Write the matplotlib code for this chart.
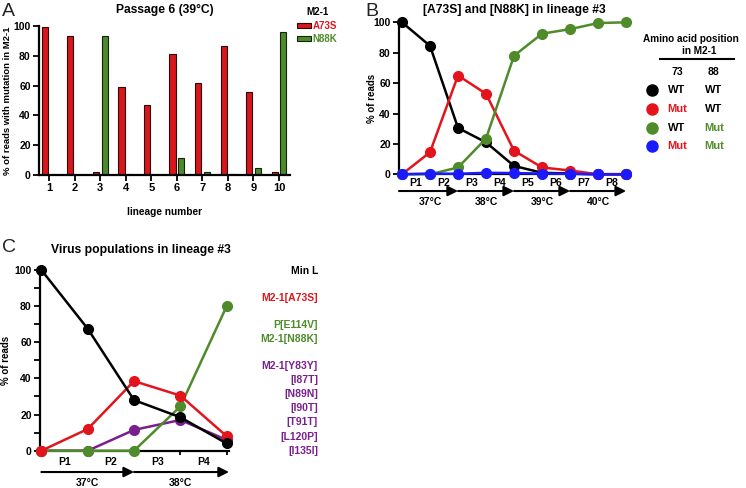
import numpy as np
import matplotlib
matplotlib.use("Agg")
import matplotlib.pyplot as plt
from matplotlib.lines import Line2D
import matplotlib.transforms as mtransforms

plt.rcParams['font.family'] = ['Liberation Sans', 'DejaVu Sans']
plt.rcParams['font.weight'] = 'bold'

# ---------------- data ----------------
lineages = [1, 2, 3, 4, 5, 6, 7, 8, 9, 10]
a73s = [99, 93, 2, 59, 47, 81.5, 61.5, 86.5, 55.5, 2]
n88k = [0.2, 0.3, 93.5, 1, 0.2, 11.5, 2, 1, 4.5, 96]

b_pass = [0, 1, 2, 3, 4, 5, 6, 7, 8]
b_wt_wt = [100, 84.5, 30.5, 21, 5.5, 1, 0.5, 0, 0]
b_mut_wt = [0, 14.5, 65, 53, 15.5, 4.5, 2.5, 0, 0]
b_wt_mut = [0, 0, 4.5, 23.5, 78, 92.5, 95.5, 99.5, 100]
b_mut_mut = [0, 0.5, 0.3, 1, 0.8, 0.5, 0.3, 0, 0]
b_plabels = ['P1', 'P2', 'P3', 'P4', 'P5', 'P6', 'P7', 'P8']
b_temps = ['37°C', '38°C', '39°C', '40°C']

c_pass = [0, 1, 2, 3, 4]
c_minl = [100, 67.5, 28, 18.5, 4]
c_a73s = [0, 12, 38.5, 30.5, 8]
c_n88k = [0, 0, 0, 24.5, 80]
c_y83y = [0, 0, 11.5, 17, 6]
c_plabels = ['P1', 'P2', 'P3', 'P4']
c_temps = ['37°C', '38°C']

RED = '#e3141c'
GREEN = '#4f8b2b'
BLUE = '#1a1aff'
PURPLE = '#7a1f8f'

W, H = 746, 488
fig = plt.figure(figsize=(W / 100, H / 100), dpi=100)
TICK = 7.5
TXT = 7.5
TITLE = 8.7
YLAB = 7


def fx(px):
    return px / W


def fy(py):
    return 1 - py / H


def style_axes(ax):
    for s in ['top', 'right']:
        ax.spines[s].set_visible(False)
    for s in ['left', 'bottom']:
        ax.spines[s].set_linewidth(1.6)
    ax.tick_params(axis='both', direction='out', width=1.3, length=4,
                   labelsize=TICK, pad=2)
    for lab in ax.get_xticklabels() + ax.get_yticklabels():
        lab.set_fontweight('bold')


# ---------------- Panel A ----------------
axA = fig.add_axes([fx(39), fy(175), fx(290) - fx(39), (175 - 26) / H])
x = np.array(lineages, dtype=float)
wbar = 0.24
barsR = axA.bar(x - 0.17, a73s, width=wbar, color='#d8161c', edgecolor='#2a0808', linewidth=0.8)
barsG = axA.bar(x + 0.17, n88k, width=wbar, color='#4c8a2b', edgecolor='#142408', linewidth=0.8)
axA.set_xlim(0.6, 10.43)
axA.set_ylim(0, 100)
axA.set_xticks(lineages)
axA.set_xticklabels([str(v) for v in lineages])
axA.set_yticks([0, 20, 40, 60, 80, 100])
style_axes(axA)
axA.tick_params(axis='x', labelsize=8)
axA.set_title('Passage 6 (39°C)', fontsize=TITLE, fontweight='bold', pad=9)
axA.set_xlabel('lineage number', fontsize=7.3, fontweight='bold', labelpad=10)
axA.set_ylabel('% of reads with mutation in M2-1', fontsize=6.8, fontweight='bold')
axA.yaxis.set_label_coords((12 - 39) / 251, 0.5)
leg = axA.legend([barsR, barsG], ['A73S', 'N88K'], title='M2-1', frameon=False,
                 loc='upper left', bbox_to_anchor=((297 - 39) / 251, (175 - 7) / 149),
                 handlelength=1.4, handleheight=0.5, handletextpad=0.2,
                 borderaxespad=0, borderpad=0, labelspacing=0.3, fontsize=7,
                 title_fontproperties={'weight': 'bold', 'size': 7})
leg._legend_box.sep = 3
for t, c in zip(leg.get_texts(), [RED, GREEN]):
    t.set_color(c)
    t.set_fontweight('bold')
fig.text(fx(2), fy(11), 'A', fontsize=14, color='#222222', va='center', ha='left', fontweight='normal')

# ---------------- Panel B ----------------
axB = fig.add_axes([fx(399), fy(174.3), fx(630) - fx(399), (174.3 - 22.3) / H])
lw = 1.8
ms = 7
axB.plot(b_pass, b_wt_wt, '-o', color='black', lw=lw, ms=ms, clip_on=False, zorder=3)
axB.plot(b_pass, b_mut_wt, '-o', color=RED, lw=lw, ms=ms, clip_on=False, zorder=4)
axB.plot(b_pass, b_wt_mut, '-o', color=GREEN, lw=lw, ms=ms, clip_on=False, zorder=5)
axB.plot(b_pass, b_mut_mut, '-o', color=BLUE, lw=lw, ms=ms, clip_on=False, zorder=6)
axB.set_xlim(-0.107, 8.14)
axB.set_ylim(0, 100)
axB.set_xticks(b_pass)
axB.set_xticklabels([])
axB.set_yticks([0, 20, 40, 60, 80, 100])
style_axes(axB)
axB.tick_params(axis='x', length=3)
axB.set_title('[A73S] and [N88K] in lineage #3', fontsize=TITLE, fontweight='bold', pad=7)
axB.set_ylabel('% of reads', fontsize=YLAB, fontweight='bold')
axB.yaxis.set_label_coords((377 - 399) / 231, 0.5)
trB = mtransforms.blended_transform_factory(axB.transData, axB.transAxes)
for i, lab in enumerate(b_plabels):
    axB.text(i + 0.5, -0.057, lab, transform=trB, ha='center', va='center',
             fontsize=TXT, fontweight='bold')
for k, lab in enumerate(b_temps):
    x0, x1 = 2 * k, 2 * k + 2
    axB.annotate('', xy=(x1, -0.11), xytext=(x0 - (0.107 if k == 0 else 0), -0.11),
                 xycoords=trB, textcoords=trB, annotation_clip=False,
                 arrowprops=dict(arrowstyle='-|>,head_length=0.6,head_width=0.3',
                                 color='black', lw=1.5, shrinkA=0, shrinkB=0))
    axB.text(2 * k + 1, -0.18, lab, transform=trB, ha='center', va='center',
             fontsize=TXT, fontweight='bold')
fig.text(fx(365), fy(11), 'B', fontsize=14, color='#222222', va='center', ha='left', fontweight='normal')

# legend for B
fig.text(fx(691), fy(39), 'Amino acid position', ha='center', va='center', fontsize=7.2, fontweight='bold')
fig.text(fx(699), fy(51), 'in M2-1', ha='center', va='center', fontsize=7.2, fontweight='bold')
fig.add_artist(Line2D([fx(660), fx(734)], [fy(59), fy(59)], color='black', lw=1.5))
fig.text(fx(677), fy(72), '73', ha='center', va='center', fontsize=TXT, fontweight='bold')
fig.text(fx(714), fy(72), '88', ha='center', va='center', fontsize=TXT, fontweight='bold')
rows = [('black', ('WT', 'black'), ('WT', 'black')),
        (RED, ('Mut', RED), ('WT', 'black')),
        (GREEN, ('WT', 'black'), ('Mut', GREEN)),
        (BLUE, ('Mut', RED), ('Mut', GREEN))]
for (mc, c1, c2), py in zip(rows, [90, 109, 128, 146]):
    fig.add_artist(Line2D([fx(652)], [fy(py)], marker='o', ms=8, color=mc, lw=0))
    fig.text(fx(677), fy(py), c1[0], color=c1[1], ha='center', va='center', fontsize=8, fontweight='bold')
    fig.text(fx(714), fy(py), c2[0], color=c2[1], ha='center', va='center', fontsize=8, fontweight='bold')

# ---------------- Panel C ----------------
axC = fig.add_axes([fx(40), fy(450.7), fx(229) - fx(40), (450.7 - 270) / H])
axC.plot(c_pass, c_y83y, '-o', color=PURPLE, lw=lw, ms=ms, clip_on=False, zorder=3)
axC.plot(c_pass, c_n88k, '-o', color=GREEN, lw=lw, ms=ms, clip_on=False, zorder=4)
axC.plot(c_pass, c_a73s, '-o', color=RED, lw=lw, ms=ms, clip_on=False, zorder=5)
axC.plot(c_pass, c_minl, '-o', color='black', lw=lw, ms=ms, clip_on=False, zorder=6)
axC.set_xlim(-0.03, 4.05)
axC.set_ylim(0, 100)
axC.set_xticks(c_pass)
axC.set_xticklabels([])
axC.set_yticks([0, 20, 40, 60, 80, 100])
axC.set_yticks([10, 30, 50, 70, 90], minor=True)
style_axes(axC)
axC.tick_params(axis='y', which='minor', length=4, width=1.3)
axC.tick_params(axis='x', length=3)
axC.set_ylabel('% of reads', fontsize=YLAB, fontweight='bold')
axC.yaxis.set_label_coords((11 - 40) / 189, 0.5)
fig.text(fx(141), fy(250), 'Virus populations in lineage #3', ha='center', va='center',
         fontsize=TITLE, fontweight='bold')
trC = mtransforms.blended_transform_factory(axC.transData, axC.transAxes)
for i, lab in enumerate(c_plabels):
    axC.text(i + 0.5, -0.0625, lab, transform=trC, ha='center', va='center',
             fontsize=TXT, fontweight='bold')
for k, lab in enumerate(c_temps):
    x0, x1 = 2 * k, 2 * k + 2
    axC.annotate('', xy=(x1 + (0.05 if k == 1 else 0), -0.118), xytext=(x0, -0.118),
                 xycoords=trC, textcoords=trC, annotation_clip=False,
                 arrowprops=dict(arrowstyle='-|>,head_length=0.6,head_width=0.3',
                                 color='black', lw=1.5, shrinkA=0, shrinkB=0))
    axC.text(2 * k + 1, -0.178, lab, transform=trC, ha='center', va='center',
             fontsize=TXT, fontweight='bold')
fig.text(fx(2), fy(247), 'C', fontsize=14, color='#222222', va='center', ha='left', fontweight='normal')

c_annot = [('Min L', 'black', 271), ('M2-1[A73S]', RED, 298),
           ('P[E114V]', GREEN, 325), ('M2-1[N88K]', GREEN, 339),
           ('M2-1[Y83Y]', PURPLE, 366), ('[I87T]', PURPLE, 380),
           ('[N89N]', PURPLE, 394), ('[I90T]', PURPLE, 408),
           ('[T91T]', PURPLE, 422), ('[L120P]', PURPLE, 437),
           ('[I135I]', PURPLE, 451)]
for txt, col, py in c_annot:
    fig.text(fx(318), fy(py), txt, color=col, ha='right', va='center', fontsize=7.5, fontweight='bold')

fig.savefig('out.png', dpi=100)
